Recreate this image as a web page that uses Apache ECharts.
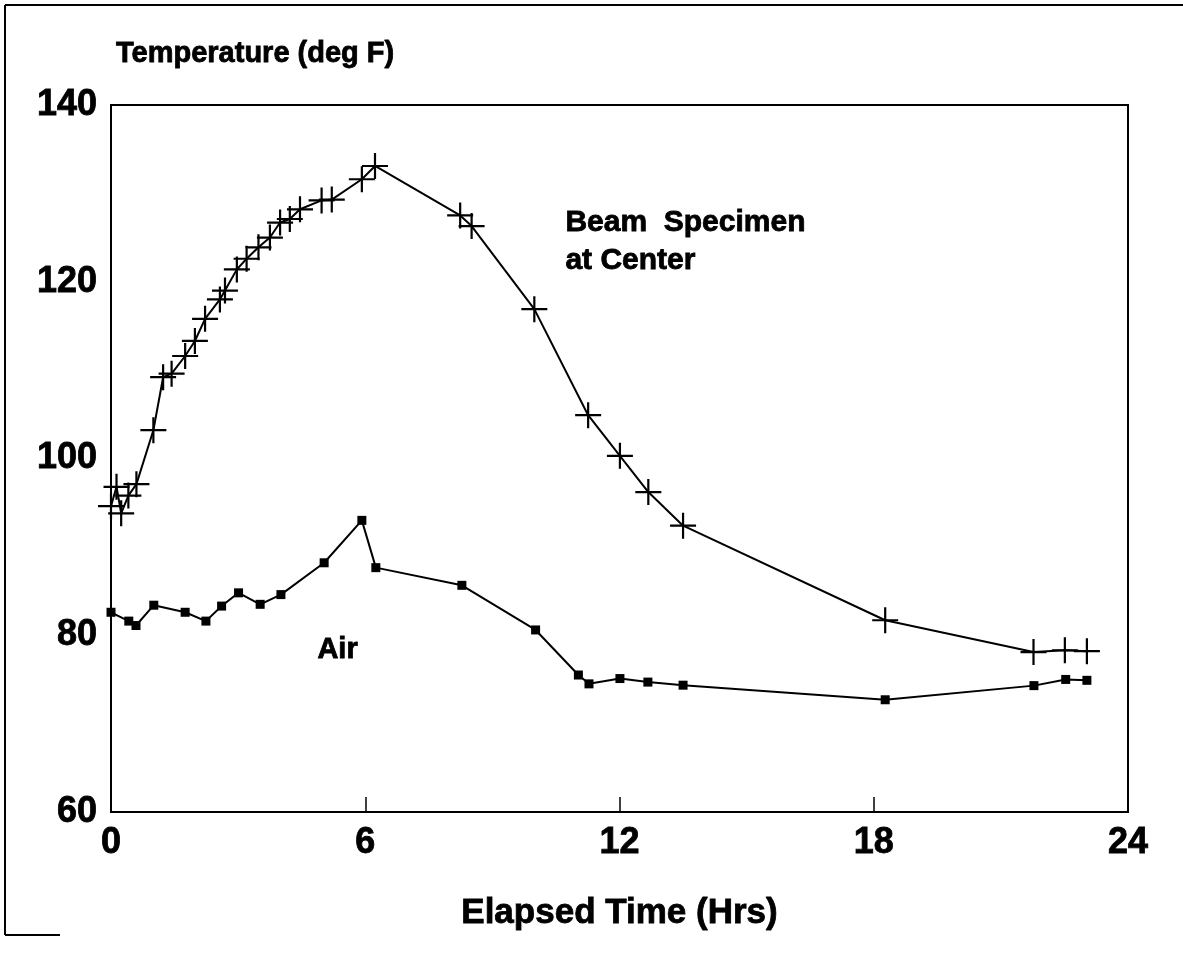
<!DOCTYPE html>
<html>
<head>
<meta charset="utf-8">
<title>Temperature vs Elapsed Time</title>
<script src="https://cdn.jsdelivr.net/npm/echarts@6/dist/echarts.min.js"></script>
<style>
  html, body { margin: 0; padding: 0; background: #fff; }
  #chart { width: 1183px; height: 963px; }
</style>
</head>
<body>
<div id="chart"></div>
<script>
// Beam specimen temperature measured at the center (deg F) vs elapsed hours
const beamHours = [0, 0.13, 0.24, 0.41, 0.6, 1.0, 1.23, 1.43, 1.75, 1.98, 2.22, 2.57, 2.69, 2.97, 3.2, 3.48, 3.75, 3.99, 4.22, 4.46, 4.97, 5.21, 5.92, 6.23, 8.24, 8.51, 9.99, 11.26, 12.01, 12.68, 13.5, 18.27, 21.77, 22.51, 23.03];
const beamTemps = [94.6, 96.8, 93.8, 95.8, 97.1, 103.2, 109.2, 109.6, 111.6, 113.3, 115.8, 118.0, 119.0, 121.4, 122.6, 123.9, 125.0, 126.7, 127.1, 128.2, 129.2, 129.3, 131.6, 133.1, 127.5, 126.3, 116.9, 104.9, 100.3, 96.2, 92.4, 81.7, 78.1, 78.3, 78.2];

// Surrounding air temperature (deg F) vs elapsed hours
const airHours = [0, 0.42, 0.59, 1.01, 1.75, 2.24, 2.61, 3.01, 3.52, 4.01, 5.03, 5.92, 6.25, 8.28, 10.02, 11.03, 11.28, 12.01, 12.67, 13.5, 18.27, 21.78, 22.53, 23.03];
const airTemps = [82.6, 81.6, 81.1, 83.4, 82.6, 81.6, 83.3, 84.8, 83.5, 84.6, 88.2, 93.0, 87.65, 85.65, 80.6, 75.5, 74.5, 75.1, 74.7, 74.35, 72.7, 74.3, 75.0, 74.9];

// Axis ranges and tick steps
const xTicks = [0, 6, 12, 18, 24];
const yTicks = [60, 80, 100, 120, 140];

const FONT = '"Liberation Sans", Arial, Helvetica, sans-serif';
// heavy lettering: bold face plus a thin outline in the same colour
const heavy = { fontFamily: FONT, fontWeight: 'bold', color: '#000', textBorderColor: '#000', textBorderWidth: 0.8 };
const pair = (xs, ys) => xs.map((x, i) => [x, ys[i]]);

const chart = echarts.init(document.getElementById('chart'), null, { renderer: 'canvas' });

chart.setOption({
  backgroundColor: '#ffffff',
  animation: false,
  title: {
    text: 'Temperature (deg F)',
    left: 111,
    top: 34,
    textStyle: Object.assign({ fontSize: 29 }, heavy)
  },
  grid: {
    left: 111, right: 55, top: 105, bottom: 151,
    show: true, borderColor: '#000', borderWidth: 2, backgroundColor: 'transparent'
  },
  xAxis: {
    type: 'value',
    min: xTicks[0], max: xTicks[xTicks.length - 1], interval: 6,
    name: 'Elapsed Time (Hrs)',
    nameLocation: 'middle',
    nameGap: 84,
    nameTextStyle: Object.assign({ fontSize: 35 }, heavy),
    axisLine: { show: true, lineStyle: { color: '#000', width: 2 } },
    axisTick: { show: true, inside: true, length: 15, lineStyle: { color: '#000', width: 1.5 } },
    axisLabel: Object.assign({ margin: 13, fontSize: 36 }, heavy),
    splitLine: { show: false }
  },
  yAxis: {
    type: 'value',
    min: yTicks[0], max: yTicks[yTicks.length - 1], interval: 20,
    axisLine: { show: true, lineStyle: { color: '#000', width: 2 } },
    axisTick: { show: false },
    axisLabel: Object.assign({ margin: 14, fontSize: 36 }, heavy),
    splitLine: { show: false }
  },
  graphic: [
    // page frame
    { type: 'line', shape: { x1: 5, y1: 5, x2: 1183, y2: 5 }, style: { stroke: '#000', lineWidth: 2 } },
    { type: 'line', shape: { x1: 5, y1: 5, x2: 5, y2: 935 }, style: { stroke: '#000', lineWidth: 2 } },
    { type: 'line', shape: { x1: 5, y1: 935, x2: 60, y2: 935 }, style: { stroke: '#000', lineWidth: 2 } },
    // series annotations
    {
      type: 'text', left: 565, top: 204,
      style: {
        text: 'Beam  Specimen\nat Center',
        font: 'bold 30px ' + FONT,
        lineHeight: 38,
        fill: '#000', stroke: '#000', lineWidth: 0.8
      }
    },
    {
      type: 'text', left: 317, top: 635,
      style: { text: 'Air', font: 'bold 29px ' + FONT, fill: '#000', stroke: '#000', lineWidth: 0.8 }
    }
  ],
  series: [
    {
      name: 'Beam Specimen at Center',
      type: 'line',
      data: pair(beamHours, beamTemps),
      symbol: 'path://M13,0 L13,26 M0,13 L26,13',
      symbolSize: 26,
      showAllSymbol: true,
      itemStyle: { color: 'none', borderColor: '#000', borderWidth: 2.2 },
      lineStyle: { color: '#000', width: 2 },
      z: 3
    },
    {
      name: 'Air',
      type: 'line',
      data: pair(airHours, airTemps),
      symbol: 'rect',
      symbolSize: 9,
      showAllSymbol: true,
      itemStyle: { color: '#000', borderWidth: 0 },
      lineStyle: { color: '#000', width: 2 },
      z: 3
    }
  ]
});
</script>
</body>
</html>
